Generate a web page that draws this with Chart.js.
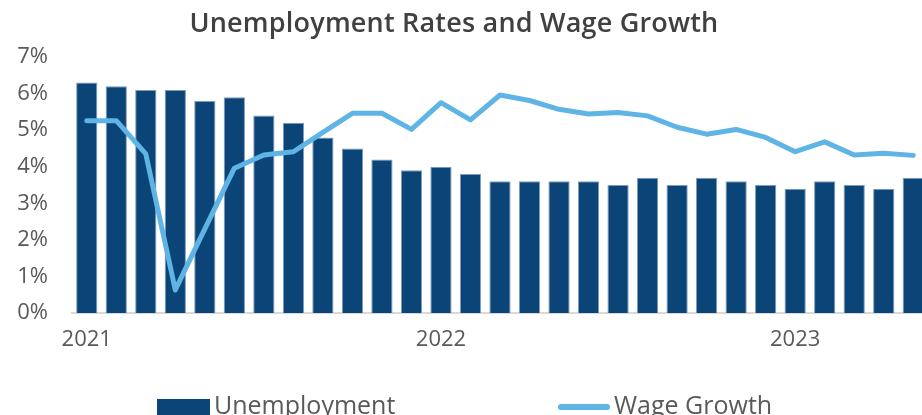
<!DOCTYPE html>
<html>
<head>
<meta charset="utf-8">
<script src="https://cdn.jsdelivr.net/npm/chart.js@4"></script>
<style>
    html, body { margin: 0; padding: 0; background: #fff; }
    #wrap { position: relative; width: 922px; height: 415px; overflow: hidden; }
    #chart { position: absolute; left: 0; top: 0; }
    #title { position: absolute; left: 0; top: 3px; width: 908px; text-align: center;
        font-family: 'Open Sans', sans-serif; font-size: 27px; font-weight: 600; letter-spacing: 0.2px; color: #404040; }
    .legend-item { position: absolute; top: 387px; display: flex; align-items: center;
        font-family: 'Open Sans', sans-serif; font-size: 25px; color: #595959; white-space: nowrap; }
    .swatch-bar { width: 53px; height: 17px; background: #0b4477; margin-right: 4px; margin-top: 6px; }
    .swatch-line { width: 52px; height: 6px; border-radius: 3px; background: #5db4e5; margin-right: 4px; margin-top: 6px; }
</style>
</head>
<body>
<div id="wrap">
    <canvas id="chart" width="930" height="420"></canvas>
    <div id="title">Unemployment Rates and Wage Growth</div>
    <div class="legend-item" style="left:157px"><span class="swatch-bar"></span>Unemployment</div>
    <div class="legend-item" style="left:558px"><span class="swatch-line"></span>Wage Growth</div>
</div>
<script>
// Monthly data, Jan 2021 - May 2023
const months = [
    'Jan 2021', 'Feb 2021', 'Mar 2021', 'Apr 2021', 'May 2021', 'Jun 2021',
    'Jul 2021', 'Aug 2021', 'Sep 2021', 'Oct 2021', 'Nov 2021', 'Dec 2021',
    'Jan 2022', 'Feb 2022', 'Mar 2022', 'Apr 2022', 'May 2022', 'Jun 2022',
    'Jul 2022', 'Aug 2022', 'Sep 2022', 'Oct 2022', 'Nov 2022', 'Dec 2022',
    'Jan 2023', 'Feb 2023', 'Mar 2023', 'Apr 2023', 'May 2023'
];

const unemployment = [
    6.3, 6.2, 6.1, 6.1, 5.8, 5.9, 5.4, 5.2, 4.8, 4.5, 4.2, 3.9,
    4.0, 3.8, 3.6, 3.6, 3.6, 3.6, 3.5, 3.7, 3.5, 3.7, 3.6, 3.5,
    3.4, 3.6, 3.5, 3.4, 3.7
];

const wageGrowth = [
    5.26, 5.26, 4.35, 0.63, 2.3, 3.96, 4.32, 4.41, 4.94, 5.46, 5.46, 5.02,
    5.75, 5.28, 5.96, 5.81, 5.57, 5.44, 5.48, 5.39, 5.08, 4.89, 5.02, 4.80,
    4.41, 4.68, 4.32, 4.37, 4.31
];

const yTicks = [0, 1, 2, 3, 4, 5, 6, 7];

const tickFont = { family: 'Open Sans', size: 22 };
const textColor = '#595959';

new Chart(document.getElementById('chart'), {
    type: 'bar',
    data: {
        labels: months,
        datasets: [
            {
                label: 'Wage Growth',
                type: 'line',
                data: wageGrowth,
                borderColor: '#5db4e5',
                borderWidth: 5,
                borderCapStyle: 'round',
                borderJoinStyle: 'round',
                pointRadius: 0,
                tension: 0,
                fill: false,
                order: 1
            },
            {
                label: 'Unemployment',
                data: unemployment,
                backgroundColor: '#0b4477',
                borderColor: '#7f9cbb',
                borderWidth: 1,
                barPercentage: 0.72,
                categoryPercentage: 1,
                order: 2
            }
        ]
    },
    options: {
        responsive: false,
        animation: false,
        layout: { padding: { left: 0, right: 2, top: 57, bottom: 62 } },
        plugins: {
            legend: { display: false },
            tooltip: { enabled: false },
            title: { display: false }
        },
        scales: {
            x: {
                grid: { display: false, drawTicks: false },
                border: { display: true, color: '#d9d9d9', width: 2 },
                ticks: {
                    color: textColor,
                    font: tickFont,
                    padding: 14,
                    autoSkip: false,
                    maxRotation: 0,
                    callback: function (value, index) {
                        return index % 12 === 0 ? months[index].split(' ')[1] : '';
                    }
                },
                afterFit: function (scale) { scale.height = 45; }
            },
            y: {
                min: 0,
                max: 7,
                grid: { display: false, drawTicks: false },
                border: { display: false },
                afterBuildTicks: function (scale) {
                    scale.ticks = yTicks.map(v => ({ value: v }));
                },
                ticks: {
                    color: textColor,
                    font: tickFont,
                    padding: 24,
                    callback: v => v + '%'
                },
                afterFit: function (scale) { scale.width = 72; }
            }
        }
    }
});
</script>
</body>
</html>
